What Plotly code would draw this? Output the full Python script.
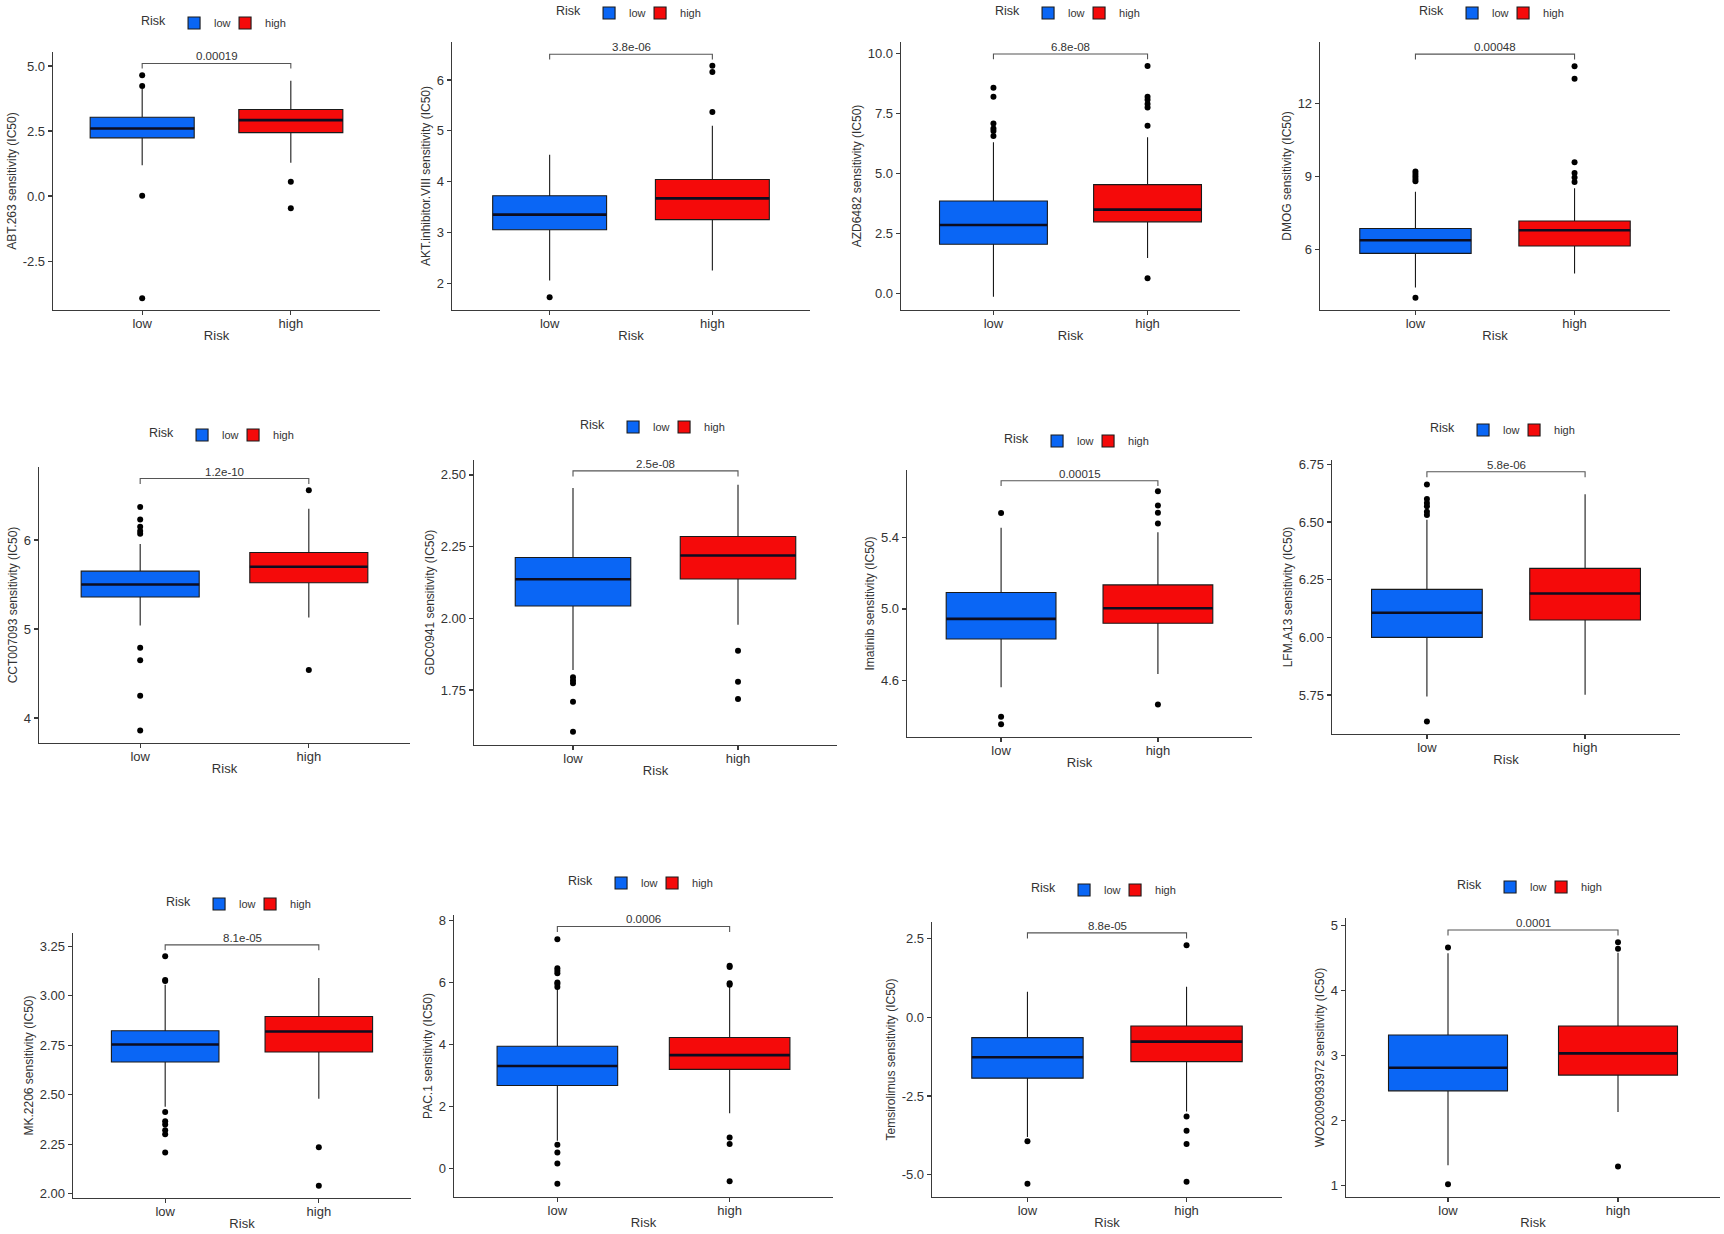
import plotly.graph_objects as go

# ---------------- data ----------------
groups = ["low", "high"]
drugs = ["ABT.263", "AKT.inhibitor.VIII", "AZD6482", "DMOG",
         "CCT007093", "GDC0941", "Imatinib", "LFM.A13",
         "MK.2206", "PAC.1", "Temsirolimus", "WO2009093972"]
p_values = ["0.00019", "3.8e-06", "6.8e-08", "0.00048",
            "1.2e-10", "2.5e-08", "0.00015", "5.8e-06",
            "8.1e-05", "0.0006", "8.8e-05", "0.0001"]

# box statistics: q1, median, q3, lower whisker, upper whisker
low_q1 = [2.24, 3.05, 2.05, 5.84, 5.36, 2.043, 4.831, 6.00, 2.666, 2.68, -1.933, 2.454]
low_med = [2.60, 3.35, 2.85, 6.38, 5.50, 2.136, 4.944, 6.107, 2.754, 3.31, -1.267, 2.809]
low_q3 = [3.03, 3.72, 3.85, 6.86, 5.65, 2.212, 5.092, 6.208, 2.824, 3.945, -0.646, 3.313]
low_lo = [1.19, 2.05, -0.14, 4.44, 5.04, 1.82, 4.56, 5.744, 2.44, 0.90, -3.80, 1.31]
low_hi = [4.12, 4.53, 6.30, 8.37, 5.955, 2.454, 5.456, 6.51, 3.056, 5.80, 0.81, 4.57]

high_q1 = [2.44, 3.25, 2.98, 6.14, 5.52, 2.137, 4.92, 6.075, 2.716, 3.20, -1.407, 2.696]
high_med = [2.92, 3.67, 3.49, 6.79, 5.70, 2.219, 5.004, 6.19, 2.82, 3.66, -0.773, 3.03]
high_q3 = [3.33, 4.04, 4.53, 7.17, 5.86, 2.285, 5.135, 6.299, 2.896, 4.23, -0.276, 3.452]
high_lo = [1.28, 2.25, 1.48, 5.01, 5.13, 1.977, 4.635, 5.751, 2.48, 1.78, -2.99, 2.13]
high_hi = [4.43, 5.10, 6.50, 8.52, 6.35, 2.466, 5.43, 6.62, 3.09, 5.87, 0.97, 4.58]

low_outliers = [
    [4.65, 4.23, 0.01, -3.93],
    [1.72],
    [8.57, 8.19, 7.08, 6.87, 6.76, 6.56],
    [9.21, 9.10, 9.00, 8.90, 8.80, 4.01],
    [6.37, 6.23, 6.15, 6.10, 6.07, 4.79, 4.65, 4.25, 3.86],
    [1.794, 1.783, 1.773, 1.709, 1.604],
    [5.538, 4.395, 4.352],
    [6.663, 6.60, 6.583, 6.569, 6.545, 6.53, 5.635],
    [3.20, 3.08, 3.075, 2.413, 2.366, 2.35, 2.321, 2.30, 2.208],
    [7.40, 6.46, 6.38, 6.30, 6.00, 5.95, 5.86, 0.77, 0.52, 0.16, -0.49],
    [-3.94, -5.29],
    [4.66, 1.016],
]
high_outliers = [
    [0.55, -0.47],
    [6.28, 6.16, 5.37],
    [9.47, 8.19, 8.06, 7.89, 7.74, 6.98, 0.63],
    [13.53, 13.02, 9.59, 9.14, 8.96, 8.77],
    [6.56, 4.54],
    [1.887, 1.779, 1.718],
    [5.66, 5.58, 5.54, 5.48, 4.463],
    [],
    [2.234, 2.04],
    [6.54, 6.50, 5.98, 5.93, 1.00, 0.79, -0.41],
    [2.29, -3.15, -3.60, -4.02, -5.22],
    [4.74, 4.64, 1.29],
]

bracket_y = [5.10, 6.51, 9.97, 14.03, 6.69, 2.514, 5.72, 6.718, 3.258, 7.81, 2.68, 4.93]

y_ranges = [[-4.38, 5.54], [1.47, 6.75], [-0.69, 10.47], [3.51, 14.53],
            [3.72, 6.82], [1.558, 2.552], [4.281, 5.78], [5.581, 6.769],
            [1.978, 3.318], [-0.918, 8.18], [-5.707, 3.026], [0.82, 5.114]]
y_tickvals = [[-2.5, 0, 2.5, 5.0], [2, 3, 4, 5, 6], [0, 2.5, 5, 7.5, 10], [6, 9, 12],
              [4, 5, 6], [1.75, 2.0, 2.25, 2.5], [4.6, 5.0, 5.4], [5.75, 6.0, 6.25, 6.5, 6.75],
              [2.0, 2.25, 2.5, 2.75, 3.0, 3.25], [0, 2, 4, 6, 8], [-5, -2.5, 0, 2.5], [1, 2, 3, 4, 5]]
y_ticktext = [["-2.5", "0.0", "2.5", "5.0"], ["2", "3", "4", "5", "6"],
              ["0.0", "2.5", "5.0", "7.5", "10.0"], ["6", "9", "12"],
              ["4", "5", "6"], ["1.75", "2.00", "2.25", "2.50"], ["4.6", "5.0", "5.4"],
              ["5.75", "6.00", "6.25", "6.50", "6.75"],
              ["2.00", "2.25", "2.50", "2.75", "3.00", "3.25"], ["0", "2", "4", "6", "8"],
              ["-5.0", "-2.5", "0.0", "2.5"], ["1", "2", "3", "4", "5"]]

# ---------------- layout geometry (pixels) & styles ----------------
W, H = 1724, 1234
# x_left, x_right, y_top, y_bottom of each plotting panel
panels = [(53, 380, 52, 310), (452, 810, 42, 310), (901, 1240, 42, 310), (1320, 1670, 42, 310),
          (39, 410, 467, 743), (474, 837, 460, 745), (907, 1252, 470, 737), (1332, 1680, 460, 734),
          (73, 411, 933, 1198), (454, 833, 915, 1197), (932, 1282, 922, 1197), (1346, 1720, 918, 1197)]
legend_pos = [(217, 23), (632, 13), (1071, 13), (1495, 13),
              (225, 435), (656, 427), (1080, 441), (1506, 430),
              (242, 904), (644, 883), (1107, 890), (1533, 887)]
legend_entry_w = [6, 24]   # legend entry text width per group (px)

FILLS = ["#0a66f5", "#f50a0a"]
EDGE = "#1a1a1a"
AXC = "#3a3a3a"
TXT = "#333333"
FONT = "Liberation Sans, Arial, sans-serif"
BOX_W = 0.7

fig = go.Figure()
stats = [
    (low_q1, low_med, low_q3, low_lo, low_hi, low_outliers),
    (high_q1, high_med, high_q3, high_lo, high_hi, high_outliers),
]

layout = dict(
    width=W, height=H, margin=dict(l=0, r=0, t=0, b=0, autoexpand=False),
    paper_bgcolor="white", plot_bgcolor="white",
    boxmode="overlay", hovermode=False,
    font=dict(family=FONT, color=TXT), template="none",
    shapes=[], annotations=[],
)

for i in range(12):
    sfx = "" if i == 0 else str(i + 1)
    xr, yr = "x" + sfx, "y" + sfx
    leg = "legend" + sfx
    for g in range(2):
        q1, med, q3, lo, hi, outs = stats[g]
        pos = g + 1
        fig.add_trace(go.Box(
            x=[pos], q1=[q1[i]], median=[med[i]], q3=[q3[i]],
            lowerfence=[lo[i]], upperfence=[hi[i]],
            name=groups[g], fillcolor=FILLS[g],
            line=dict(color=EDGE, width=1.1), whiskerwidth=0, width=BOX_W,
            xaxis=xr, yaxis=yr, legend=leg, showlegend=True, hoverinfo="skip",
            legendwidth=legend_entry_w[g],
        ))
        # thicker median line like ggplot
        fig.add_trace(go.Scatter(
            x=[pos - BOX_W / 2, pos + BOX_W / 2], y=[med[i], med[i]],
            mode="lines", line=dict(color="#0d0d20", width=2.6),
            xaxis=xr, yaxis=yr, showlegend=False, hoverinfo="skip",
        ))
        if outs[i]:
            fig.add_trace(go.Scatter(
                x=[pos] * len(outs[i]), y=outs[i], mode="markers",
                marker=dict(color="black", size=6),
                xaxis=xr, yaxis=yr, showlegend=False, hoverinfo="skip",
            ))

    x0, x1, yt, yb = panels[i]
    tfont = dict(family=FONT, size=13, color=TXT)
    layout["xaxis" + sfx] = dict(
        domain=[x0 / W, x1 / W], anchor=yr, range=[0.4, 2.6],
        tickvals=[1, 2], ticktext=groups, tickfont=tfont,
        showline=True, linecolor=AXC, linewidth=1.3, ticks="outside",
        ticklen=4, tickcolor=AXC, tickwidth=1.2, showgrid=False, zeroline=False,
        ticklabelstandoff=-3,
        title=dict(text="Risk", font=tfont, standoff=1),
    )
    layout["yaxis" + sfx] = dict(
        domain=[1 - yb / H, 1 - yt / H], anchor=xr, range=y_ranges[i],
        tickvals=y_tickvals[i], ticktext=y_ticktext[i], tickfont=tfont,
        showline=True, linecolor=AXC, linewidth=1.3, ticks="outside",
        ticklen=4, tickcolor=AXC, tickwidth=1.2, showgrid=False, zeroline=False,
        title=dict(text=drugs[i] + " sensitivity (IC50)",
                   font=dict(family=FONT, size=12, color=TXT), standoff=3),
    )
    cx, cy = legend_pos[i]
    layout[leg] = dict(
        orientation="h", x=cx / W, y=1 - cy / H, xanchor="center", yanchor="middle",
        title=dict(text="Risk", side="left", font=dict(family=FONT, size=12.5, color=TXT)),
        font=dict(family=FONT, size=11, color=TXT), bgcolor="rgba(0,0,0,0)",
        itemwidth=30, entrywidthmode="pixels",
        tracegroupgap=0, itemclick=False, itemdoubleclick=False,
    )

    # significance bracket
    yrng = y_ranges[i][1] - y_ranges[i][0]
    tip = 0.02 * yrng
    by = bracket_y[i]
    layout["shapes"].append(dict(
        type="path", xref=xr, yref=yr,
        path=f"M 1,{by - tip} L 1,{by} L 2,{by} L 2,{by - tip}",
        line=dict(color="#555555", width=1.1),
    ))
    layout["annotations"].append(dict(
        x=1.5, y=by, xref=xr, yref=yr, text=p_values[i], showarrow=False,
        yanchor="bottom", yshift=-1, font=dict(family=FONT, size=11.5, color=TXT),
    ))

fig.update_layout(**layout)
fig.write_html(
    "out.html",
    config={"displayModeBar": False, "staticPlot": True},
    post_script="document.body.style.margin='0';document.body.style.overflow='hidden';",
)
